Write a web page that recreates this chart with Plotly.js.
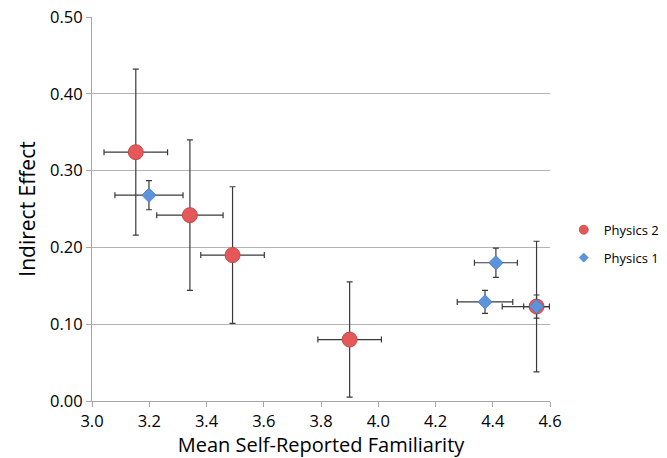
<!DOCTYPE html>
<html>
<head>
<meta charset="utf-8">
<script src="https://cdn.plot.ly/plotly-3.0.1.min.js"></script>
<style>html,body{margin:0;padding:0;background:#fff;}#chart{width:667px;height:458px;}</style>
</head>
<body>
<div id="chart"></div>
<script>
// Physics 2 (red circles)
const phys2X = [3.153, 3.342, 3.491, 3.900, 4.553];
const phys2Y = [0.324, 0.242, 0.190, 0.080, 0.123];
const phys2XErr = [0.111, 0.116, 0.111, 0.111, 0.12];
const phys2YErr = [0.108, 0.098, 0.089, 0.075, 0.085];
// Physics 1 (blue diamonds)
const phys1X = [3.199, 4.411, 4.373, 4.553];
const phys1Y = [0.268, 0.180, 0.129, 0.123];
const phys1XErr = [0.119, 0.075, 0.097, 0.045];
const phys1YErr = [0.019, 0.019, 0.015, 0.015];
const xTicks = [3.0, 3.2, 3.4, 3.6, 3.8, 4.0, 4.2, 4.4, 4.6];
const yTicks = [0.0, 0.1, 0.2, 0.3, 0.4, 0.5];

const errStyle = {color: '#3a3a3a', thickness: 1.2, width: 3};
const traces = [
  {
    type: 'scatter', mode: 'markers', name: 'Physics 2', showlegend: false,
    x: phys2X, y: phys2Y,
    error_x: Object.assign({type: 'data', array: phys2XErr, visible: true}, errStyle),
    error_y: Object.assign({type: 'data', array: phys2YErr, visible: true}, errStyle),
    marker: {symbol: 'circle', size: 15, color: '#e4585a', line: {color: '#c8484a', width: 1}}
  },
  {
    type: 'scatter', mode: 'markers', name: 'Physics 1', showlegend: false,
    x: phys1X, y: phys1Y,
    error_x: Object.assign({type: 'data', array: phys1XErr, visible: true}, errStyle),
    error_y: Object.assign({type: 'data', array: phys1YErr, visible: true}, errStyle),
    marker: {symbol: 'diamond', size: 11, color: '#5b93dc', line: {color: '#4a7fc6', width: 0.8}}
  },
  {
    type: 'scatter', mode: 'markers', name: 'Physics 2', legendgroup: 'a',
    x: [null], y: [null],
    marker: {symbol: 'circle', size: 9, color: '#e4585a', line: {color: '#c8484a', width: 0.8}}
  },
  {
    type: 'scatter', mode: 'markers', name: 'Physics 1', legendgroup: 'b',
    x: [null], y: [null],
    marker: {symbol: 'diamond', size: 7, color: '#5b93dc', line: {color: '#4a7fc6', width: 0.6}}
  }
];

const layout = {
  width: 667, height: 458,
  margin: {l: 92, r: 117, t: 17, b: 57, autoexpand: false},
  paper_bgcolor: '#ffffff', plot_bgcolor: '#ffffff',
  font: {family: '"Open Sans", sans-serif', color: '#000000'},
  showlegend: true,
  legend: {
    x: 1.03, xanchor: 'left', y: 0.485, yanchor: 'top',
    font: {size: 13, color: '#000'}, tracegroupgap: 8, traceorder: 'grouped',
    bgcolor: 'rgba(0,0,0,0)'
  },
  xaxis: {
    range: [3.0, 4.6], tickvals: xTicks, tickformat: '.1f',
    showgrid: false, zeroline: false, showline: true, linecolor: '#a6a6a6', linewidth: 1,
    ticks: 'outside', ticklen: 5, tickcolor: '#a6a6a6',
    tickfont: {size: 16.5},
    title: {text: 'Mean Self-Reported Familiarity', font: {size: 20}, standoff: 8}
  },
  yaxis: {
    range: [0, 0.5], tickvals: yTicks, tickformat: '.2f',
    showgrid: true, gridcolor: '#b3b3b3', gridwidth: 1, zeroline: false,
    showline: true, linecolor: '#a6a6a6', linewidth: 1,
    ticks: 'outside', ticklen: 5, tickcolor: '#a6a6a6',
    tickfont: {size: 16.5},
    title: {text: 'Indirect Effect', font: {size: 21}, standoff: 8}
  }
};

Plotly.newPlot('chart', traces, layout, {displayModeBar: false, staticPlot: true});
</script>
</body>
</html>
